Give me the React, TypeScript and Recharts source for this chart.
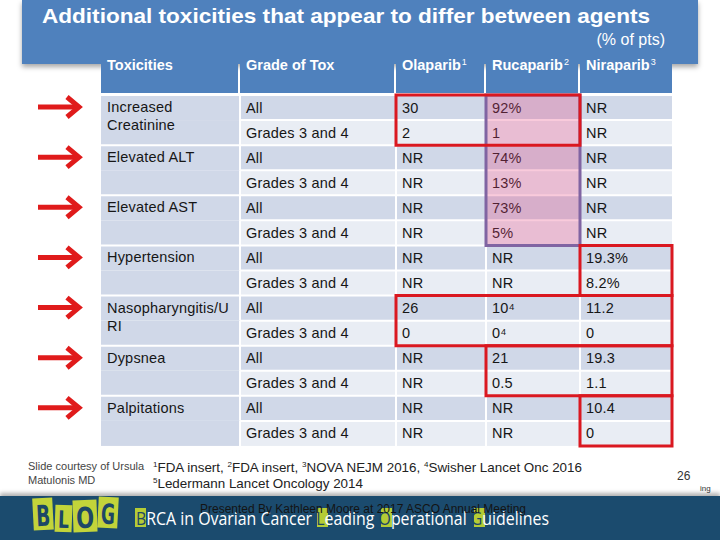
import React from "react";
import { BarChart, Bar, XAxis, YAxis, LabelList, ReferenceArea } from "recharts";

// table content
const TOXICITIES = [
  "Increased\nCreatinine",
  "Elevated ALT",
  "Elevated AST",
  "Hypertension",
  "Nasopharyngitis/U\nRI",
  "Dypsnea",
  "Palpitations",
];
const GRADES = ["All", "Grades 3 and 4"];
const AGENTS = ["Olaparib", "Rucaparib", "Niraparib"];
const AGENT_REFS = ["1", "2", "3"];
const OLAPARIB = ["30", "2", "NR", "NR", "NR", "NR", "NR", "NR", "26", "0", "NR", "NR", "NR", "NR"];
const RUCAPARIB = ["92%", "1", "74%", "13%", "73%", "5%", "NR", "NR", "10⁴", "0⁴", "21", "0.5", "NR", "NR"];
const NIRAPARIB = ["NR", "NR", "NR", "NR", "NR", "NR", "19.3%", "8.2%", "11.2", "0", "19.3", "1.1", "10.4", "0"];

// highlighted blocks: [firstCol, lastCol, firstRow, lastRow]
const RED_BOXES = [
  [2, 3, 0, 1],
  [4, 4, 6, 7],
  [2, 4, 8, 9],
  [3, 4, 10, 11],
  [4, 4, 12, 13],
];
const PURPLE_BOX = [3, 3, 0, 5];

// layout
const COL_WIDTHS = [139, 156, 90, 94, 92];
const TABLE_LEFT = 101;
const TOTAL = COL_WIDTHS.reduce((a, b) => a + b, 0);
const COL_EDGES = COL_WIDTHS.reduce((acc, w) => [...acc, acc[acc.length - 1] + w], [0]);
const FONT = "'Liberation Sans', Arial, sans-serif";

const rows = OLAPARIB.map((_, i) => {
  const g = Math.floor(i / 2);
  const grade = i % 2;
  const row: any = {
    key: "r" + i,
    grade,
    cells: [TOXICITIES[g], GRADES[grade], OLAPARIB[i], RUCAPARIB[i], NIRAPARIB[i]],
  };
  COL_WIDTHS.forEach((w, c) => (row["c" + c] = w));
  return row;
});

const cellShape = (col: number) => (props: any) => {
  const { x, y, width, height, payload } = props;
  const fill = col === 0 || payload.grade === 0 ? "#D0D8E8" : "#E9EDF4";
  const topLine = col !== 0 || payload.grade === 0;
  return (
    <g>
      <rect x={x} y={y} width={width} height={height} fill={fill} />
      {topLine && <line x1={x} x2={x + width} y1={y} y2={y} stroke="#fff" strokeWidth={2} />}
      {col > 0 && <line x1={x} x2={x} y1={y} y2={y + height} stroke="#fff" strokeWidth={2} />}
    </g>
  );
};

const cellLabel = (col: number) => (props: any) => {
  const { x, y, height, index } = props;
  const row = rows[index];
  if (col === 0 && row.grade !== 0) return null;
  const lines = String(row.cells[col]).split("\n");
  const arrow =
    col === 0 ? (
      <g stroke="#E01B1B" strokeWidth={5} fill="none">
        <line x1={x - 63} x2={x - 22} y1={y + 12} y2={y + 12} />
        <polyline points={`${x - 34},${y + 2} ${x - 22},${y + 12} ${x - 34},${y + 22}`} />
      </g>
    ) : null;
  return (
    <g>
      {arrow}
      {lines.map((t, k) => (
        <text
          key={k}
          x={x + 6}
          y={col === 0 ? y + 17 + k * 18 : y + height / 2 + 5}
          fontFamily={FONT}
          fontSize={14.5}
          letterSpacing={0.2}
          fill="#161616"
        >
          {t}
        </text>
      ))}
    </g>
  );
};

export default function App() {
  return (
    <div style={{ position: "absolute", left: 0, top: 0, width: 720, height: 540, background: "#fff", overflow: "hidden", fontFamily: FONT }}>
      {/* title banner and bottom band */}
      <div
        style={{
          position: "absolute", left: 22, top: 0, width: 676, height: 64,
          background: "#4F81BD", boxShadow: "0 3px 5px rgba(0,0,0,0.35)",
        }}
      />
      <div
        style={{
          position: "absolute", left: 0, top: 496, width: 720, height: 44, background: "#1B4B6E",
          boxShadow: "0 -3px 4px rgba(0,0,0,0.3)",
        }}
      />

      {/* slide texts */}
      <svg width={720} height={540} style={{ position: "absolute", left: 0, top: 0 }} fontFamily={FONT}>
        <text x={42} y={23} fontSize={21} fontWeight="bold" fill="#fff" textLength={608} lengthAdjust="spacingAndGlyphs">
          Additional toxicities that appear to differ between agents
        </text>
        <text x={665} y={45} fontSize={16} fill="#fff" textAnchor="end">(% of pts)</text>

        <text x={28} y={470} fontSize={11} fill="#444">Slide courtesy of Ursula</text>
        <text x={28} y={484} fontSize={11} fill="#444">Matulonis MD</text>
        <text x={153} y={472} fontSize={13.4} fill="#222" textLength={429} lengthAdjust="spacingAndGlyphs">
          <tspan fontSize={8} dy={-5}>1</tspan>
          <tspan dy={5}>FDA insert, </tspan>
          <tspan fontSize={8} dy={-5}>2</tspan>
          <tspan dy={5}>FDA insert, </tspan>
          <tspan fontSize={8} dy={-5}>3</tspan>
          <tspan dy={5}>NOVA NEJM 2016, </tspan>
          <tspan fontSize={8} dy={-5}>4</tspan>
          <tspan dy={5}>Swisher Lancet Onc 2016</tspan>
        </text>
        <text x={153} y={488} fontSize={13.4} fill="#222">
          <tspan fontSize={8} dy={-5}>5</tspan>
          <tspan dy={5}>Ledermann Lancet Oncology 2014</tspan>
        </text>
        <text x={677} y={480} fontSize={12} fill="#333">26</text>
        <text x={700} y={491} fontSize={8} fill="#333">ing</text>

        {/* BLOG logo */}
        {[
          ["B", 33, 498, 20, 32, -3],
          ["L", 55, 505, 17, 27, 2],
          ["O", 73, 500, 24, 32, -2],
          ["G", 98, 497, 20, 31, 3],
        ].map(([l, x, y, w, h, r]: any) => (
          <g key={l} transform={`rotate(${r} ${x + w / 2} ${y + h / 2})`}>
            <rect x={x} y={y} width={w} height={h} fill="#C3D43A" />
            <text
              x={x + w / 2}
              y={y + h - 4}
              textAnchor="middle"
              fontFamily="'DejaVu Sans', sans-serif"
              fontWeight="bold"
              fontSize={h - 3}
              fill="#1D4766"
              textLength={w - 6}
              lengthAdjust="spacingAndGlyphs"
            >
              {l}
            </text>
          </g>
        ))}

        {/* banner text */}
        {[136, 318, 382, 475].map((x) => (
          <rect key={x} x={x - 1} y={508} width={11} height={19} fill="#B5CC35" />
        ))}
        <text
          x={136}
          y={525}
          fontFamily="'Open Sans', sans-serif"
          fontSize={18}
          fill="#fff"
          textLength={413}
          lengthAdjust="spacingAndGlyphs"
        >
          <tspan fill="#1D4766">B</tspan>RCA in Ovarian Cancer <tspan fill="#1D4766">L</tspan>eading{" "}
          <tspan fill="#1D4766">O</tspan>perational <tspan fill="#1D4766">G</tspan>uidelines
        </text>
        <text x={200} y={513} fontSize={12} fill="#141414" textLength={326} lengthAdjust="spacingAndGlyphs">
          Presented By Kathleen Moore at 2017 ASCO Annual Meeting
        </text>
      </svg>

      {/* table body */}
      <div style={{ position: "absolute", left: 0, top: 0 }}>
        <BarChart
          width={720}
          height={540}
          data={rows}
          layout="vertical"
          barCategoryGap={0}
          barGap={0}
          margin={{ top: 95, right: 720 - TABLE_LEFT - TOTAL, bottom: 94, left: TABLE_LEFT }}
        >
          <XAxis type="number" domain={[0, TOTAL]} hide />
          <YAxis type="category" dataKey="key" hide />
          {COL_WIDTHS.map((_, c) => (
            <Bar key={c} dataKey={"c" + c} stackId="t" isAnimationActive={false} shape={cellShape(c)}>
              <LabelList dataKey={"c" + c} content={cellLabel(c)} />
            </Bar>
          ))}
          <ReferenceArea
            x1={COL_EDGES[PURPLE_BOX[0]]}
            x2={COL_EDGES[PURPLE_BOX[1] + 1]}
            y1={"r" + PURPLE_BOX[2]}
            y2={"r" + PURPLE_BOX[3]}
            fill="#E8407F"
            fillOpacity={0.28}
            stroke="#8064A2"
            strokeWidth={3}
            ifOverflow="visible"
            zIndex={2500}
          />
          {RED_BOXES.map((b, i) => (
            <ReferenceArea
              key={i}
              x1={COL_EDGES[b[0]]}
              x2={COL_EDGES[b[1] + 1]}
              y1={"r" + b[2]}
              y2={"r" + b[3]}
              fill="none"
              stroke="#DA1820"
              strokeWidth={3}
              ifOverflow="visible"
              zIndex={2600}
            />
          ))}
        </BarChart>
      </div>

      {/* table header */}
      <div style={{ position: "absolute", left: TABLE_LEFT, top: 52, height: 41, display: "flex" }}>
        {["Toxicities", "Grade of Tox", ...AGENTS].map((h, c) => (
          <div
            key={c}
            style={{
              width: COL_WIDTHS[c] - (c < 4 ? 2 : 0), height: 41, marginRight: c < 4 ? 2 : 0,
              background: "#4F81BD", color: "#fff", fontWeight: "bold", fontSize: 14.5,
              padding: "5px 0 0 6px", boxSizing: "border-box", lineHeight: "17px", whiteSpace: "nowrap",
            }}
          >
            {h}
            {c >= 2 && (
              <span style={{ fontSize: 9, fontWeight: "normal", position: "relative", top: -5, marginLeft: 1 }}>
                {AGENT_REFS[c - 2]}
              </span>
            )}
          </div>
        ))}
      </div>
    </div>
  );
}
